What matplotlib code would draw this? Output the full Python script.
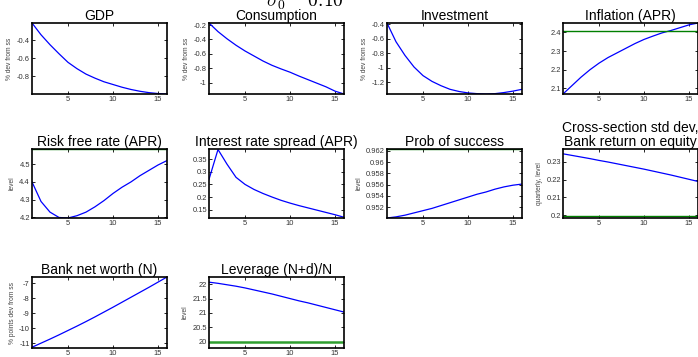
import numpy as np
import matplotlib
matplotlib.use('Agg')
import matplotlib.pyplot as plt
from matplotlib.ticker import FuncFormatter

plt.rcParams['font.family'] = ['Liberation Sans', 'DejaVu Sans']
plt.rcParams['axes.unicode_minus'] = False
plt.rcParams['mathtext.fontset'] = 'cm'

t = np.arange(1, 17)

gdp = [-0.21, -0.34, -0.45, -0.55, -0.645, -0.715, -0.775, -0.82, -0.86, -0.89,
       -0.92, -0.945, -0.965, -0.98, -0.99, -0.995]
consumption = [-0.17, -0.29, -0.39, -0.48, -0.56, -0.63, -0.70, -0.76, -0.81, -0.856,
               -0.91, -0.96, -1.01, -1.06, -1.12, -1.16]
investment = [-0.38, -0.64, -0.83, -0.99, -1.11, -1.19, -1.25, -1.30, -1.33, -1.35,
              -1.36, -1.365, -1.36, -1.345, -1.325, -1.30]
inflation = [2.07, 2.115, 2.16, 2.20, 2.235, 2.265, 2.29, 2.315, 2.34, 2.362,
             2.38, 2.397, 2.41, 2.425, 2.44, 2.45]
inflation_ss = 2.405
riskfree = [4.40, 4.29, 4.23, 4.20, 4.197, 4.21, 4.23, 4.26, 4.295, 4.335,
            4.37, 4.40, 4.435, 4.465, 4.495, 4.52]
riskfree_ss = 4.585
spread = [0.27, 0.388, 0.33, 0.278, 0.25, 0.23, 0.214, 0.2, 0.187, 0.176,
          0.166, 0.157, 0.148, 0.139, 0.13, 0.12]
prob = [0.9501, 0.9503, 0.9506, 0.9510, 0.9514, 0.9518, 0.9523, 0.9528, 0.9533, 0.9538,
        0.9543, 0.9547, 0.9552, 0.9556, 0.9559, 0.9561]
prob_ss = 0.9623
xsec = [0.2345, 0.2336, 0.2327, 0.2318, 0.2308, 0.2299, 0.2289, 0.2279, 0.2269, 0.2259,
        0.2248, 0.2237, 0.2226, 0.2214, 0.2202, 0.2190]
xsec_ss = 0.1998
networth = [-11.25, -10.98, -10.71, -10.43, -10.14, -9.85, -9.55, -9.24, -8.92, -8.60,
            -8.27, -7.94, -7.61, -7.28, -6.94, -6.6]
leverage = [22.07, 22.03, 21.98, 21.93, 21.87, 21.80, 21.73, 21.66, 21.58, 21.50,
            21.42, 21.35, 21.27, 21.19, 21.11, 21.03]
leverage_ss = 20.0

W, H = 698, 357
fig = plt.figure(figsize=(W / 100, H / 100), dpi=100)

lefts = [32, 209, 387, 563]
rows = [(23, 94), (149, 218), (277, 348)]
aw = 135

panels = [
    # title, ylabel, data, ss, ylim, yticks, row, col
    ('GDP', '% dev from ss', gdp, None, (-0.995, -0.21), [-0.8, -0.6, -0.4], 0, 0),
    ('Consumption', '% dev from ss', consumption, None, (-1.16, -0.17), [-1, -0.8, -0.6, -0.4, -0.2], 0, 1),
    ('Investment', '% dev from ss', investment, None, (-1.365, -0.38), [-1.2, -1, -0.8, -0.6, -0.4], 0, 2),
    ('Inflation (APR)', '', inflation, inflation_ss, (2.07, 2.45), [2.1, 2.2, 2.3, 2.4], 0, 3),
    ('Risk free rate (APR)', 'level', riskfree, riskfree_ss, (4.197, 4.585), [4.2, 4.3, 4.4, 4.5], 1, 0),
    ('Interest rate spread (APR)', '', spread, None, (0.117, 0.39), [0.15, 0.2, 0.25, 0.3, 0.35], 1, 1),
    ('Prob of success', 'level', prob, prob_ss, (0.9501, 0.9623), [0.952, 0.954, 0.956, 0.958, 0.96, 0.962], 1, 2),
    ('Cross-section std dev,\nBank return on equity', 'quarterly, level', xsec, xsec_ss, (0.1985, 0.2372), [0.2, 0.21, 0.22, 0.23], 1, 3),
    ('Bank net worth (N)', '% points dev from ss', networth, None, (-11.3, -6.6), [-11, -10, -9, -8, -7], 2, 0),
    ('Leverage (N+d)/N', 'level', leverage, leverage_ss, (19.78, 22.25), [20, 20.5, 21, 21.5, 22], 2, 1),
]

fmt = FuncFormatter(lambda v, p: '%g' % v)

for title, ylab, y, ss, ylim, yt, r, c in panels:
    top, bot = rows[r]
    ax = fig.add_axes([lefts[c] / W, 1 - bot / H, aw / W, (bot - top) / H])
    ax.plot(t, y, color='blue', lw=0.9)
    if ss is not None:
        if title.startswith('Lev'):
            ax.axhline(ss, color='#2e9e2e', lw=1.8)
        else:
            ax.axhline(ss, color='#007f00', lw=1.0)
    ax.set_xlim(1, 16)
    ax.set_ylim(*ylim)
    ax.set_xticks([5, 10, 15])
    ax.set_yticks(yt)
    ax.yaxis.set_major_formatter(fmt)
    ax.tick_params(direction='in', length=2.5, width=0.6, labelsize=5.4,
                   labelcolor='#333333', top=True, right=True, pad=1.5)
    for s in ax.spines.values():
        s.set_linewidth(1.2)
    ax.set_title(title, fontsize=10, pad=2, linespacing=1.0)
    if ylab:
        ax.set_ylabel(ylab, fontsize=4.8, color='#444444', labelpad=2.5)

fig.text(305 / W, 1 - 7 / H, r'$\sigma_0\ \ \ \ 0.10$', fontsize=14,
         ha='center', va='baseline')

fig.savefig('out.png', dpi=100)
